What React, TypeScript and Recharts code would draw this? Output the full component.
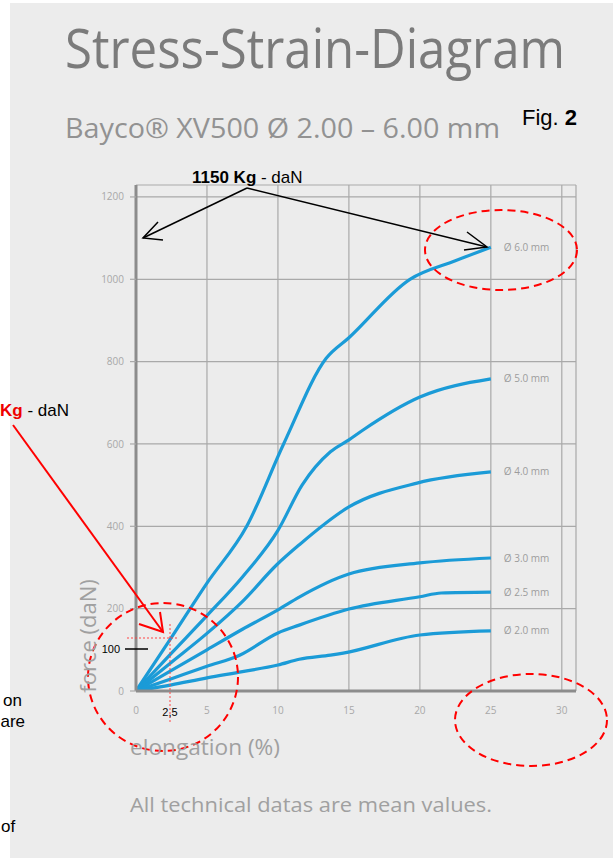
import React from 'react'
import { LineChart, Line, XAxis, YAxis, CartesianGrid } from 'recharts'

// axis ticks
const elongationTicks = [0, 5, 10, 15, 20, 25, 30]
const forceTicks = [0, 200, 400, 600, 800, 1000, 1200]

// values: elongation (%) / force (daN)
const strain60 = [0, 2.5, 5, 7.8, 10.4, 13.4, 15, 19.3, 22.5, 25]
const force60 = [0, 130, 262, 400, 600, 808, 858, 1000, 1045, 1078]

const strain50 = [0, 2.5, 5, 7.5, 10, 11.7, 13.7, 15, 16, 20, 25]
const force50 = [0, 92, 183, 277, 390, 500, 581, 610, 634, 714, 758]

const strain40 = [0, 2.5, 5, 7.6, 9.9, 11.5, 15, 19.8, 25]
const force40 = [0, 70, 140, 221, 306, 355, 447, 505, 532]

const strain30 = [0, 2.5, 5, 7.5, 10, 11.5, 15, 20, 25]
const force30 = [0, 50, 100, 150, 197, 228, 284, 311, 323]

const strain25 = [0, 2.5, 5, 7.3, 10, 11.5, 15, 20, 21.5, 25]
const force25 = [0, 30, 60, 87, 141, 160, 199, 229, 238, 240]

const strain20 = [0, 2.5, 5, 7.5, 10, 11.5, 13.7, 14.6, 20, 25]
const force20 = [0, 15, 32, 47, 63, 77, 87, 92, 136, 146]

const seriesNames = ['Ø 6.0 mm', 'Ø 5.0 mm', 'Ø 4.0 mm', 'Ø 3.0 mm', 'Ø 2.5 mm', 'Ø 2.0 mm']

const toPoints = (strain: number[], force: number[]) =>
  strain.map((e, i) => ({ e, f: force[i] }))

const series = [
  toPoints(strain60, force60),
  toPoints(strain50, force50),
  toPoints(strain40, force40),
  toPoints(strain30, force30),
  toPoints(strain25, force25),
  toPoints(strain20, force20),
]

const BLUE = '#1b9bd7'
const GRID = '#a9a9a9'
const AXIS = '#8c8c8c'
const SANS = "'Open Sans', 'Noto Sans', sans-serif"
const ARIAL = "'Liberation Sans', Arial, sans-serif"

function endLabel(name: string, lastIndex: number) {
  return (p: any) => {
    if (p.index !== lastIndex) return <g key={`d-${name}-${p.index}`} />
    return (
      <text
        key={`l-${name}`}
        x={p.cx + 13}
        y={p.cy}
        dy="0.35em"
        fontSize={10}
        fontFamily={SANS}
        fill="#9c9c9c"
      >
        {name}
      </text>
    )
  }
}

export default function App() {
  return (
    <div style={{ position: 'absolute', left: 0, top: 0, width: 613, height: 858, background: '#fff', overflow: 'hidden' }}>
      <div style={{ position: 'absolute', left: 10, top: 3, right: 0, bottom: 0, background: '#ececec' }} />

      <div style={{ position: 'absolute', left: 0, top: 0 }}>
        <LineChart width={613} height={858} margin={{ top: 185, right: 37, bottom: 137, left: 96 }}>
          <CartesianGrid stroke={GRID} strokeWidth={1.2} />
          <XAxis
            dataKey="e"
            type="number"
            domain={[0, 31]}
            ticks={elongationTicks}
            allowDataOverflow
            height={30}
            axisLine={{ stroke: AXIS, strokeWidth: 3 }}
            tickLine={false}
            tickSize={6}
            tickMargin={10}
            tick={{ fill: '#a8a8a8', fontSize: 10, fontFamily: SANS }}
          />
          <YAxis
            type="number"
            domain={[0, 1229]}
            ticks={forceTicks}
            allowDataOverflow
            width={40}
            axisLine={{ stroke: AXIS, strokeWidth: 3 }}
            tickLine={{ stroke: GRID, strokeWidth: 1.2 }}
            tickSize={6}
            tickMargin={6}
            tick={{ fill: '#a8a8a8', fontSize: 10, fontFamily: SANS }}
          />
          {series.map((pts, i) => (
            <Line
              key={seriesNames[i]}
              data={pts}
              dataKey="f"
              type="monotone"
              stroke={BLUE}
              strokeWidth={3.2}
              dot={endLabel(seriesNames[i], pts.length - 1)}
              activeDot={false}
              isAnimationActive={false}
            />
          ))}
        </LineChart>
      </div>

      <svg width={613} height={858} style={{ position: 'absolute', left: 0, top: 0, pointerEvents: 'none' }}>
        <text x={65} y={68} fontSize={54} fontFamily={SANS} fill="#7b7b7b" textLength={500} lengthAdjust="spacingAndGlyphs">
          Stress-Strain-Diagram
        </text>
        <text x={65} y={138} fontSize={28} fontFamily={SANS} fill="#929292" textLength={435} lengthAdjust="spacingAndGlyphs">
          Bayco® XV500 Ø 2.00 – 6.00 mm
        </text>
        <text x={522} y={125} fontSize={22} fontFamily={ARIAL} fill="#000">
          Fig. <tspan fontWeight="bold">2</tspan>
        </text>

        <text x={192} y={183} fontSize={17} fontFamily={ARIAL} fill="#000">
          <tspan fontWeight="bold">1150 Kg</tspan> - daN
        </text>
        <g stroke="#000" strokeWidth={1.5} fill="none">
          <line x1={247} y1={188} x2={143} y2={238} />
          <polyline points="158,222 143,238 163,240" />
          <line x1={247} y1={188} x2={487} y2={247} />
          <polyline points="467,232 487,247 464,250" />
        </g>

        <text x={0} y={416} fontSize={17} fontFamily={ARIAL} fill="#000">
          <tspan fontWeight="bold" fill="#e00">Kg</tspan> - daN
        </text>
        <g stroke="#f00" strokeWidth={2} fill="none">
          <line x1={13} y1={425} x2={163} y2={632} />
          <polyline points="139,624 163,632 160,612" />
        </g>

        <text x={22} y={706} fontSize={17} fontFamily={ARIAL} fill="#000" textAnchor="end">on</text>
        <text x={25} y={727} fontSize={17} fontFamily={ARIAL} fill="#000" textAnchor="end">are</text>
        <text x={1} y={832} fontSize={17} fontFamily={ARIAL} fill="#000">of</text>

        <g stroke="#f00" strokeWidth={2} fill="none" strokeDasharray="8 5">
          <ellipse cx={163} cy={677} rx={75} ry={74} />
          <ellipse cx={501} cy={250} rx={76} ry={40} />
          <ellipse cx={531} cy={720} rx={76} ry={46} />
        </g>
        <g stroke="#f44" strokeWidth={1} fill="none" strokeDasharray="2 2">
          <line x1={127} y1={638} x2={177} y2={638} />
          <line x1={170} y1={624} x2={170} y2={722} />
        </g>
        <line x1={125} y1={649} x2={148} y2={649} stroke="#000" strokeWidth={1.5} />
        <text x={120} y={649} dy="0.35em" fontSize={11} fontFamily={ARIAL} fill="#000" textAnchor="end">100</text>
        <text x={170} y={712} dy="0.35em" fontSize={11} fontFamily={ARIAL} fill="#000" textAnchor="middle">2,5</text>

        <text x={88} y={636} fontSize={22} fontFamily={SANS} fill="#a0a0a0" textAnchor="middle" transform="rotate(-90 88 636)" dy="0.35em">
          force (daN)
        </text>
        <text x={130} y={755} fontSize={22} fontFamily={SANS} fill="#a0a0a0" textLength={150} lengthAdjust="spacingAndGlyphs">elongation (%)</text>
        <text x={130} y={812} fontSize={20} fontFamily={SANS} fill="#a0a0a0" textLength={362} lengthAdjust="spacingAndGlyphs">All technical datas are mean values.</text>
      </svg>
    </div>
  )
}
